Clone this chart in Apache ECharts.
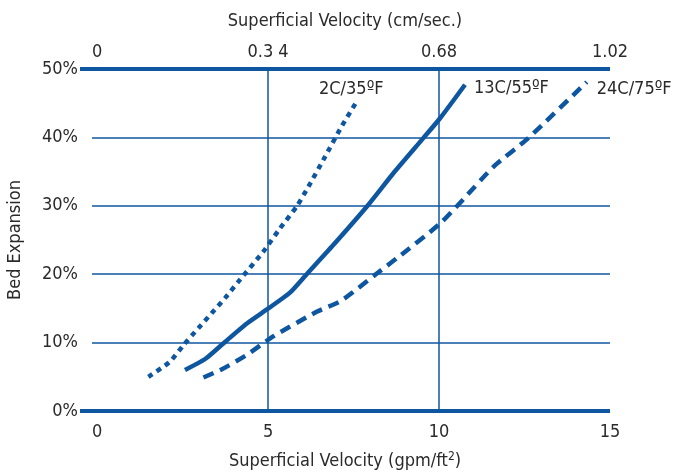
<!DOCTYPE html>
<html><head><meta charset="utf-8">
<script src="https://cdn.jsdelivr.net/npm/echarts@6/dist/echarts.min.js"></script>
<style>html,body{margin:0;padding:0;background:#fff}#c{width:675px;height:475px}</style>
</head><body><div id="c"></div>
<script>
// ---- data ----
const bottomTicks = [0, 5, 10, 15];
const topTickLabels = ['0', '0.3 4', '0.68', '1.02'];
const yTicks = [0, 10, 20, 30, 40, 50];
const seriesNames = ['2C/35ºF', '13C/55ºF', '24C/75ºF'];
const cold = [[1.5,5.0],[2.13,7.2],[2.52,9.6],[2.96,12.1],[3.35,14.3],[3.74,16.5],[4.18,19.2],[4.86,23.3],[5.35,26.7],[5.85,30.0],[6.18,32.8],[6.67,37.2],[7.15,41.6],[7.6,45.3]];
const mid = [[2.57,6.0],[3.16,7.6],[3.74,10.1],[4.38,12.8],[5.01,15.0],[5.64,17.3],[6.13,20.0],[6.86,24.0],[7.89,29.9],[8.67,34.8],[9.54,39.9],[10.03,42.8],[10.76,47.7]];
const warm = [[3.11,4.9],[3.65,6.1],[4.38,8.2],[5.15,10.9],[6.42,14.5],[7.1,16.0],[7.49,17.4],[8.18,20.1],[8.76,22.3],[10.03,27.4],[10.61,30.4],[11.59,35.7],[12.61,39.9],[14.32,48.1]];
const vLines = [5, 10];
const thickY = [0, 50];
const thinY = [10, 20, 30, 40];

const FONT = "'DejaVu Sans Condensed','Roboto',sans-serif";
const FS = 18;
const TXT = '#2a2a2a';
const BLUE = '#0f56a0';
const XMIN = -0.5, XMAX = 15;

const chart = echarts.init(document.getElementById('c'), null, {renderer: 'canvas'});

const gridLines = [];
thickY.forEach(v => gridLines.push([{coord:[XMIN, v], lineStyle:{width:4, color:BLUE, type:'solid'}}, {coord:[XMAX, v]}]));
thinY.forEach(v => gridLines.push([{coord:[-0.15, v], lineStyle:{width:1.5, color:BLUE, type:'solid'}}, {coord:[XMAX, v]}]));
vLines.forEach(v => gridLines.push([{coord:[v, 0], lineStyle:{width:1.5, color:BLUE, type:'solid'}}, {coord:[v, 50]}]));

function lineSeries(name, data, dash, offset) {
  return {
    name, type: 'line', data, smooth: 0.2, symbol: 'none', silent: true,
    lineStyle: {color: BLUE, width: 4.5, type: dash, cap: 'butt'},
    endLabel: {show: true, formatter: name, color: TXT, fontFamily: FONT, fontSize: FS, offset: offset}
  };
}

chart.setOption({
  animation: false,
  grid: {left: 80, right: 65, top: 69, bottom: 64, outerBoundsMode: 'none', containLabel: false},
  xAxis: [
    {type: 'value', position: 'bottom', min: XMIN, max: XMAX,
     name: 'Superficial Velocity (gpm/ft{sup|2})', nameLocation: 'middle', nameGap: 40,
     nameTextStyle: {color: TXT, fontFamily: FONT, fontSize: FS,
       rich: {sup: {fontSize: 12, verticalAlign: 'top', color: TXT, fontFamily: FONT, padding: [0,0,8,0]}}},
     axisLine: {show: false}, axisTick: {show: false}, splitLine: {show: false},
     axisLabel: {customValues: bottomTicks, color: TXT, fontFamily: FONT, fontSize: FS, margin: 12}},
    {type: 'value', position: 'top', min: XMIN, max: XMAX,
     name: 'Superficial Velocity (cm/sec.)', nameLocation: 'middle', nameGap: 39,
     nameTextStyle: {color: TXT, fontFamily: FONT, fontSize: FS},
     axisLine: {show: false}, axisTick: {show: false}, splitLine: {show: false},
     axisLabel: {customValues: bottomTicks, color: TXT, fontFamily: FONT, fontSize: FS, margin: 8,
       formatter: v => topTickLabels[bottomTicks.indexOf(v)] ?? ''}}
  ],
  yAxis: {type: 'value', min: 0, max: 50, interval: 10,
    name: 'Bed Expansion', nameLocation: 'middle', nameGap: 56, nameRotate: 90,
    nameTextStyle: {color: TXT, fontFamily: FONT, fontSize: FS},
    axisLine: {show: false}, axisTick: {show: false}, splitLine: {show: false},
    axisLabel: {color: TXT, fontFamily: FONT, fontSize: FS, margin: 2, formatter: '{value}%'}},
  series: [
    lineSeries(seriesNames[0], cold, [5, 5], [-46, -12]),
    lineSeries(seriesNames[1], mid, 'solid', [1, 4]),
    lineSeries(seriesNames[2], warm, [11, 7], [2, 7]),
    {type: 'line', data: [], silent: true, symbol: 'none',
     markLine: {silent: true, symbol: 'none', animation: false, label: {show: false}, data: gridLines}}
  ]
});
</script></body></html>
